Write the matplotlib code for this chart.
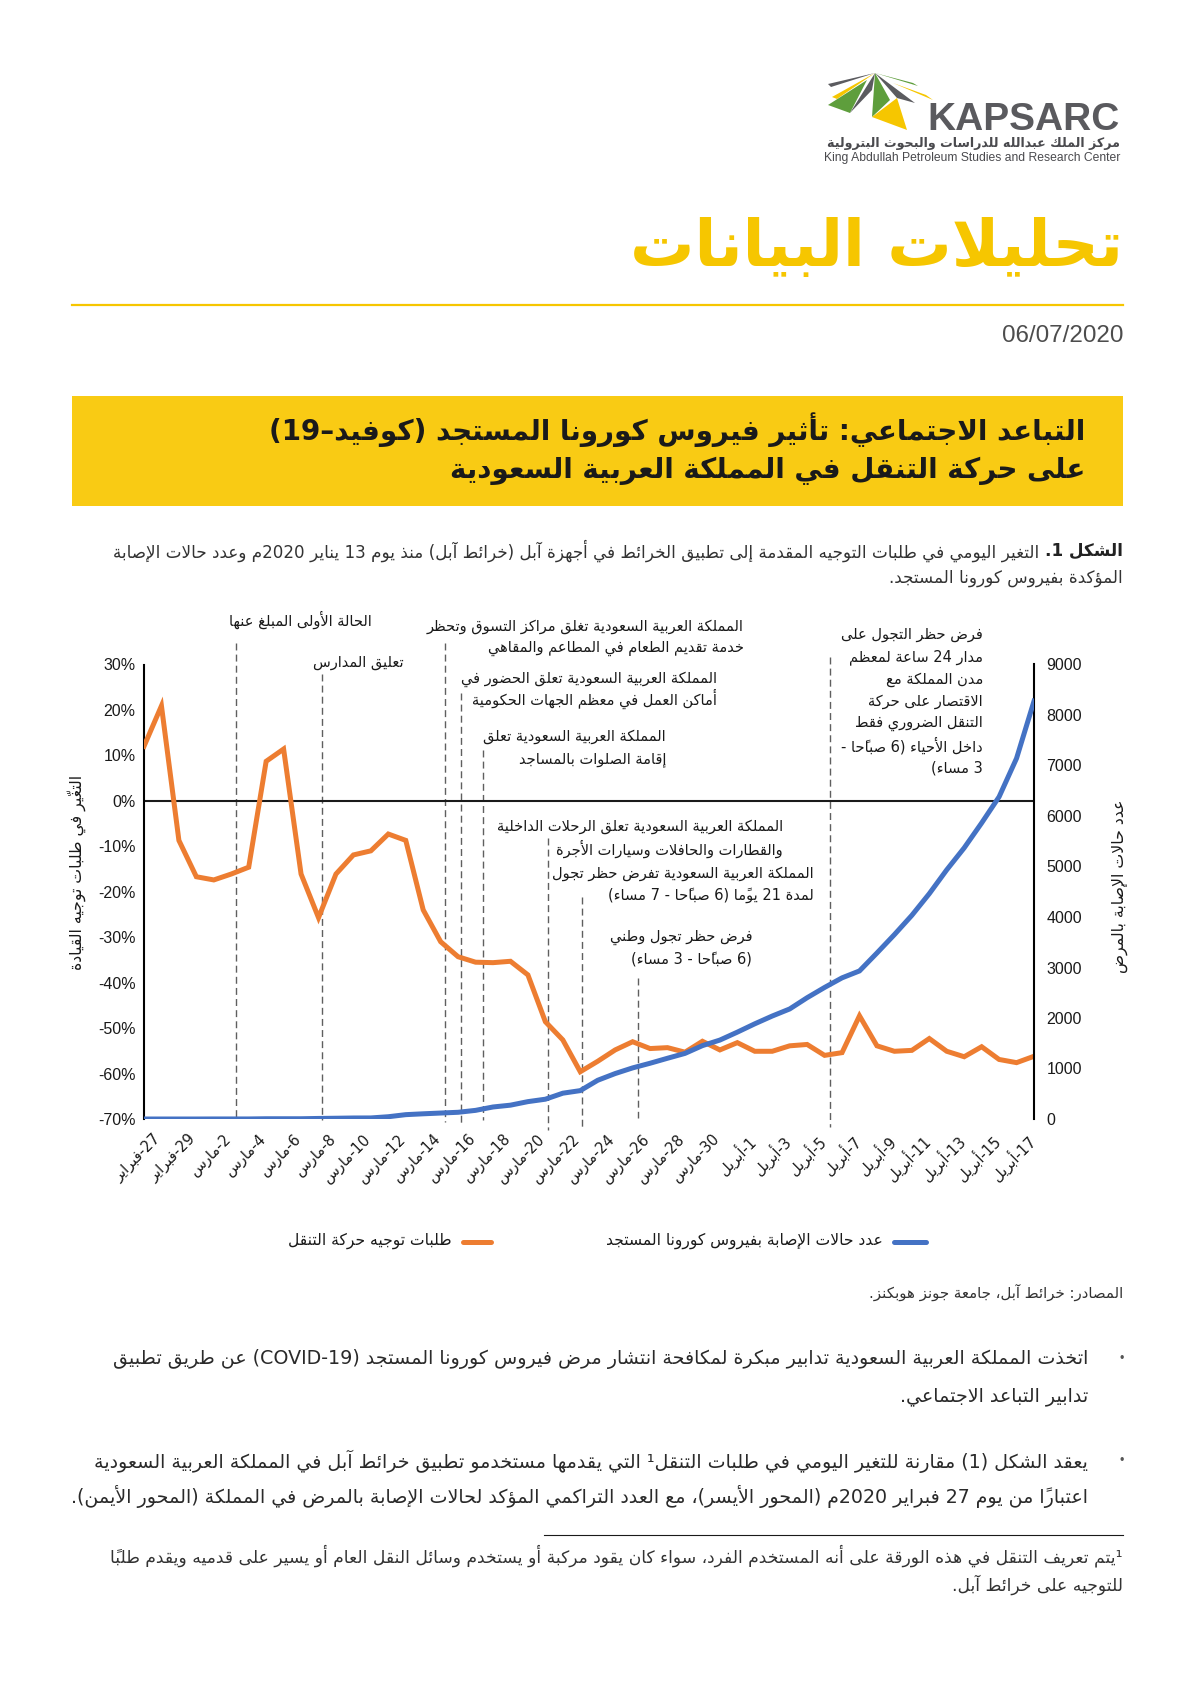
import matplotlib
matplotlib.use('Agg')
import matplotlib.pyplot as plt
import matplotlib.transforms as mtransforms
from matplotlib.patches import Rectangle, Polygon
from matplotlib.lines import Line2D

W, H = 1191, 1684

# ---------------- data ----------------
# one value per day, 27 Feb .. 18 Apr 2020
mobility = [12.0, 20.9, -8.7, -16.7, -17.4, -16.1, -14.6, 8.7, 11.4, -16.1,
            -25.7, -16.1, -11.9, -11.0, -7.3, -8.7, -24.0, -31.0, -34.3, -35.5,
            -35.6, -35.3, -38.3, -48.6, -52.6, -59.6, -57.3, -54.8, -53.0, -54.5,
            -54.3, -55.3, -52.9, -54.8, -53.2, -55.1, -55.1, -53.9, -53.6, -56.0,
            -55.4, -47.3, -53.9, -55.1, -54.9, -52.3, -55.1, -56.3, -54.1, -56.9,
            -57.6, -56.2]
cases = [0, 0, 0, 0, 1, 1, 1, 5, 5, 5,
         11, 15, 20, 21, 45, 86, 103, 118, 133, 171,
         238, 274, 344, 392, 511, 562, 767, 900, 1012, 1104,
         1203, 1299, 1453, 1563, 1720, 1885, 2039, 2179, 2402, 2605,
         2795, 2932, 3287, 3651, 4033, 4462, 4934, 5369, 5862, 6380,
         7142, 8274]
tick_labels = ['27-فبراير', '29-فبراير', '2-مارس', '4-مارس', '6-مارس', '8-مارس',
               '10-مارس', '12-مارس', '14-مارس', '16-مارس', '18-مارس', '20-مارس',
               '22-مارس', '24-مارس', '26-مارس', '28-مارس', '30-مارس', '1-أبريل',
               '3-أبريل', '5-أبريل', '7-أبريل', '9-أبريل', '11-أبريل', '13-أبريل',
               '15-أبريل', '17-أبريل']
left_ticks = [30, 20, 10, 0, -10, -20, -30, -40, -50, -60, -70]
right_ticks = [9000, 8000, 7000, 6000, 5000, 4000, 3000, 2000, 1000, 0]

# event markers (day index) and their notes
event_days = [5.27, 10.2, 17.23, 18.15, 19.4, 23.17, 25.12, 28.28, 39.29]
event_notes = [
    ['الحالة الأولى المبلغ عنها'],
    ['تعليق المدارس'],
    ['المملكة العربية السعودية تغلق مراكز التسوق وتحظر', 'خدمة تقديم الطعام في المطاعم والمقاهي'],
    ['المملكة العربية السعودية تعلق الحضور في', 'أماكن العمل في معظم الجهات الحكومية'],
    ['المملكة العربية السعودية تعلق', 'إقامة الصلوات بالمساجد'],
    ['المملكة العربية السعودية تعلق الرحلات الداخلية', 'والقطارات والحافلات وسيارات الأجرة'],
    ['المملكة العربية السعودية تفرض حظر تجول', 'لمدة 21 يومًا (6 صباحًا - 7 مساء)'],
    ['فرض حظر تجول وطني', '(6 صباحًا - 3 مساء)'],
    ['فرض حظر التجول على', 'مدار 24 ساعة لمعظم', 'مدن المملكة مع', 'الاقتصار على حركة',
     'التنقل الضروري فقط', 'داخل الأحياء (6 صباحًا -', '3 مساء)'],
]
# layout of the event lines / notes in page pixels
line_top = [643, 674, 643, 693, 750, 838, 897, 978, 657]
line_bot = [1118, 1120, 1122, 1126, 1120, 1130, 1128, 1118, 1127]
note_right = [372, 404, 744, 717, 666, 783, 814, 752, 983]
note_y = [620, 662, 626, 679, 737, 827, 874, 937, 635]
note_gap = [22, 22, 22, 20, 23, 22, 21, 22, 22.2]

ORANGE = '#ED7D31'
BLUE = '#4472C4'
YELLOW = '#F6C600'

# ---------------- minimal Arabic shaping + bidi ----------------
FORMS = {'ء': (0xFE80, 1), 'آ': (0xFE81, 2), 'أ': (0xFE83, 2), 'ؤ': (0xFE85, 2),
         'إ': (0xFE87, 2), 'ئ': (0xFE89, 4), 'ا': (0xFE8D, 2), 'ب': (0xFE8F, 4),
         'ة': (0xFE93, 2), 'ت': (0xFE95, 4), 'ث': (0xFE99, 4), 'ج': (0xFE9D, 4),
         'ح': (0xFEA1, 4), 'خ': (0xFEA5, 4), 'د': (0xFEA9, 2), 'ذ': (0xFEAB, 2),
         'ر': (0xFEAD, 2), 'ز': (0xFEAF, 2), 'س': (0xFEB1, 4), 'ش': (0xFEB5, 4),
         'ص': (0xFEB9, 4), 'ض': (0xFEBD, 4), 'ط': (0xFEC1, 4), 'ظ': (0xFEC5, 4),
         'ع': (0xFEC9, 4), 'غ': (0xFECD, 4), 'ف': (0xFED1, 4), 'ق': (0xFED5, 4),
         'ك': (0xFED9, 4), 'ل': (0xFEDD, 4), 'م': (0xFEE1, 4), 'ن': (0xFEE5, 4),
         'ه': (0xFEE9, 4), 'و': (0xFEED, 2), 'ى': (0xFEEF, 2), 'ي': (0xFEF1, 4)}
LAMALEF = {'آ': 0xFEF5, 'أ': 0xFEF7, 'إ': 0xFEF9, 'ا': 0xFEFB}
MIRROR = {'(': ')', ')': '(', '[': ']', ']': '['}


def is_mark(c):
    o = ord(c)
    return 0x064B <= o <= 0x065F or o == 0x0670 or 0x0610 <= o <= 0x061A


def jtype(c):
    if c == 'ـ':
        return 'D'
    if c in FORMS:
        return {1: 'U', 2: 'R', 4: 'D'}[FORMS[c][1]]
    return 'U'


def shape(s):
    n = len(s)
    out = []
    i = 0
    while i < n:
        c = s[i]
        if is_mark(c):
            if out:
                out[-1] += c
            i += 1
            continue
        if c not in FORMS:
            out.append(c)
            i += 1
            continue
        p = i - 1
        while p >= 0 and is_mark(s[p]):
            p -= 1
        prev_j = p >= 0 and jtype(s[p]) == 'D'
        nx = i + 1
        while nx < n and is_mark(s[nx]):
            nx += 1
        nxt = s[nx] if nx < n else None
        if c == 'ل' and nxt in LAMALEF:
            out.append(chr(LAMALEF[nxt] + (1 if prev_j else 0)) + s[i + 1:nx])
            i = nx + 1
            continue
        next_j = jtype(c) == 'D' and nxt is not None and jtype(nxt) in ('D', 'R')
        start, k = FORMS[c]
        if k == 1:
            g = start
        elif k == 2:
            g = start + (1 if prev_j else 0)
        else:
            g = start + (3 if prev_j and next_j else 1 if prev_j else 2 if next_j else 0)
        out.append(chr(g))
        i += 1
    return out


def ctype(cl):
    o = ord(cl[0])
    if 0x0600 <= o <= 0x06FF or 0xFB50 <= o <= 0xFEFF:
        return 'R'
    if cl[0].isalnum() or cl[0] == '¹':
        return 'L'
    return 'N'


def ar(s):
    cls = shape(s)
    ts = [ctype(c) for c in cls]
    res = list(ts)
    for i, t in enumerate(ts):
        if t == 'N':
            p = next((ts[j] for j in range(i - 1, -1, -1) if ts[j] != 'N'), 'R')
            q = next((ts[j] for j in range(i + 1, len(ts)) if ts[j] != 'N'), 'R')
            res[i] = 'L' if (p == 'L' and q == 'L') else 'R'
    runs = []
    for c, t in zip(cls, res):
        if runs and runs[-1][0] == t:
            runs[-1][1].append(c)
        else:
            runs.append([t, [c]])
    out = []
    for t, cs in reversed(runs):
        if t == 'R':
            out.extend(MIRROR.get(c, c) for c in reversed(cs))
        else:
            out.extend(cs)
    return ''.join(out)


# ---------------- figure ----------------
fig = plt.figure(figsize=(W / 100, H / 100), dpi=100)
renderer = fig.canvas.get_renderer()
AR = ['DejaVu Sans']
LAT = ['Liberation Sans', 'DejaVu Sans']


def fx(x):
    return x / W


def fy(y):
    return 1 - y / H


def fit(s, target, weight='normal', family=AR):
    t = fig.text(0, 0, s, fontsize=20, fontweight=weight, family=family)
    w = t.get_window_extent(renderer).width
    t.remove()
    return 20 * target / w


def rtext(x, y, s, size, **kw):
    kw.setdefault('family', AR)
    kw.setdefault('ha', 'right')
    kw.setdefault('va', 'center')
    return fig.text(fx(x), fy(y), ar(s), fontsize=size, **kw)


# logo
logo_polys = [
    ([(875, 73), (828, 84), (831, 87)], '#5B5B5F'),
    ([(875, 73), (832, 97), (837, 99)], YELLOW),
    ([(867, 80), (828, 105), (850, 113)], '#5E9E3C'),
    ([(875, 73), (850, 113), (872, 90)], '#5B5B5F'),
    ([(875, 73), (872, 117), (890, 100)], '#5E9E3C'),
    ([(872, 117), (907, 130), (897, 98)], YELLOW),
    ([(875, 73), (915, 103), (897, 98)], '#5B5B5F'),
    ([(875, 73), (918, 86), (913, 83)], '#5E9E3C'),
    ([(893, 83), (933, 100), (926, 95)], YELLOW),
]
for pts, col in logo_polys:
    fig.patches.append(Polygon([(fx(a), fy(b)) for a, b in pts], closed=True,
                               transform=fig.transFigure, color=col, lw=0))
fig.text(fx(1120), fy(120), 'KAPSARC', ha='right', va='center', fontsize=fit('KAPSARC', 192, 'bold', LAT),
         fontweight='bold', color='#5A5A5E', family=LAT)
s_logo = 'مركز الملك عبدالله للدراسات والبحوث البترولية'
rtext(1120, 143, s_logo, fit(ar(s_logo), 294, 'bold'), fontweight='bold', color='#4A4A4E')
fig.text(fx(1120), fy(158), 'King Abdullah Petroleum Studies and Research Center', ha='right', va='center',
         fontsize=fit('King Abdullah Petroleum Studies and Research Center', 294, family=LAT),
         color='#4A4A4E', family=LAT)

# title block
s_title = 'تحليلات البيانات'
rtext(1123, 248, s_title, fit(ar(s_title), 493, 'bold'), fontweight='bold', color=YELLOW)
fig.lines.append(Line2D([fx(72), fx(1123)], [fy(305), fy(305)], transform=fig.transFigure,
                        color=YELLOW, lw=1.6))
fig.text(fx(1123), fy(336), '06/07/2020', ha='right', va='center', fontsize=fit('06/07/2020', 121, family=LAT),
         color='#4D4D4D', family=LAT)

fig.patches.append(Rectangle((fx(72), fy(506)), fx(1123) - fx(72), fy(396) - fy(506),
                             transform=fig.transFigure, color='#F9CB14', lw=0))
b1 = 'التباعد الاجتماعي: تأثير فيروس كورونا المستجد (كوفيد–19)'
b2 = 'على حركة التنقل في المملكة العربية السعودية'
sb = fit(ar(b1), 816, 'bold')
rtext(1085, 430, b1, sb, fontweight='bold', color='#1A1A1A')
rtext(1085, 471, b2, sb, fontweight='bold', color='#1A1A1A')

# caption
c_bold = 'الشكل 1.'
c_rest = ' التغير اليومي في طلبات التوجيه المقدمة إلى تطبيق الخرائط في أجهزة آبل (خرائط آبل) منذ يوم 13 يناير 2020م وعدد حالات الإصابة'
sc = fit(ar(c_bold + c_rest), 1000)
tb = rtext(1123, 551, c_bold, sc, fontweight='bold', color='#222222')
wb = tb.get_window_extent(renderer).width
rtext(1123 - wb, 551, c_rest, sc, color='#333333')
rtext(1123, 578, 'المؤكدة بفيروس كورونا المستجد.', sc, color='#333333')

# ---------------- chart ----------------
ax_l, ax_r, ax_t, ax_b = 144, 1034, 664.5, 1119
ax = fig.add_axes([fx(ax_l), fy(ax_b), fx(ax_r) - fx(ax_l), fy(ax_t) - fy(ax_b)])
ax2 = ax.twinx()
days = list(range(len(mobility)))
ax.plot(days, mobility, color=ORANGE, lw=3.6, solid_joinstyle='miter', zorder=3)
ax2.plot(days, cases, color=BLUE, lw=3.6, solid_joinstyle='miter', zorder=3)
ax.set_xlim(0, len(mobility) - 1)
ax.set_ylim(-70, 30)
ax2.set_ylim(0, 9000)
ax.axhline(0, color='#1A1A1A', lw=1.5, zorder=2)
for a in (ax, ax2):
    a.set_facecolor('none')
    for sp in ('top', 'bottom'):
        a.spines[sp].set_visible(False)
    a.spines['left'].set_visible(a is ax)
    a.spines['right'].set_visible(a is ax2)
    a.spines['left'].set_linewidth(1.5)
    a.spines['right'].set_linewidth(1.5)
ax.set_yticks(left_ticks)
ax.set_yticklabels([f'{v}%' for v in left_ticks], family=LAT, fontsize=11.5, color='#1A1A1A')
ax2.set_yticks(right_ticks)
ax2.set_yticklabels([str(v) for v in right_ticks], family=LAT, fontsize=11.5, color='#1A1A1A')
ax.tick_params(axis='y', length=0, pad=6)
ax2.tick_params(axis='y', length=0, pad=9)
ax.set_xticks(days[::2])
ax.set_xticklabels([ar(s) for s in tick_labels], rotation=45, ha='right', va='top',
                   rotation_mode='anchor', family=AR, fontsize=10.5, color='#1A1A1A')
ax.tick_params(axis='x', length=0, pad=9)
shift = mtransforms.ScaledTranslation(9 / 100, 0, fig.dpi_scale_trans)
for lab in ax.get_xticklabels():
    lab.set_transform(lab.get_transform() + shift)

trans = mtransforms.blended_transform_factory(ax.transData, fig.transFigure)
s_ann = fit(ar(event_notes[2][0]), 319)
for d, top, bot, xr, y0, gap, note in zip(event_days, line_top, line_bot, note_right,
                                          note_y, note_gap, event_notes):
    ax.plot([d, d], [fy(top), fy(bot)], transform=trans, clip_on=False, color='#5F5F5F',
            lw=1.0, ls=(0, (5, 3)), zorder=1)
    for k, line in enumerate(note):
        rtext(xr, y0 + k * gap, line, s_ann, color='#1A1A1A')

rtext(77, 872, 'التغيّر في طلبات توجيه القيادة', s_ann + 0.8, rotation=90, ha='center', color='#1A1A1A')
rtext(1120, 886, 'عدد حالات الإصابة بالمرض', s_ann + 0.8, rotation=90, ha='center', color='#1A1A1A')

# legend
fig.lines.append(Line2D([fx(894), fx(926)], [fy(1242), fy(1242)], transform=fig.transFigure,
                        color=BLUE, lw=3.6, solid_capstyle='round'))
rtext(883, 1241, 'عدد حالات الإصابة بفيروس كورونا المستجد', s_ann + 0.6, color='#1A1A1A')
fig.lines.append(Line2D([fx(463), fx(491)], [fy(1242), fy(1242)], transform=fig.transFigure,
                        color=ORANGE, lw=3.6, solid_capstyle='round'))
rtext(452, 1241, 'طلبات توجيه حركة التنقل', s_ann + 0.6, color='#1A1A1A')

# source
s_src = 'المصادر: خرائط آبل، جامعة جونز هوبكنز.'
rtext(1123, 1292, s_src, fit(ar(s_src), 256), color='#333333')

# bullets
p1 = ['اتخذت المملكة العربية السعودية تدابير مبكرة لمكافحة انتشار مرض فيروس كورونا المستجد (COVID-19) عن طريق تطبيق',
      'تدابير التباعد الاجتماعي.']
p2 = ['يعقد الشكل (1) مقارنة للتغير اليومي في طلبات التنقل¹ التي يقدمها مستخدمو تطبيق خرائط آبل في المملكة العربية السعودية',
      'اعتباراً من يوم 27 فبراير 2020م (المحور الأيسر)، مع العدد التراكمي المؤكد لحالات الإصابة بالمرض في المملكة (المحور الأيمن).']
sp = fit(ar(p1[0]), 973)
rtext(1088, 1359, p1[0], sp, color='#2A2A2A')
rtext(1088, 1397, p1[1], sp, color='#2A2A2A')
rtext(1088, 1461, p2[0], sp, color='#2A2A2A')
rtext(1088, 1497, p2[1], sp, color='#2A2A2A')
for yb in (1359, 1461):
    fig.text(fx(1122), fy(yb), '•', ha='center', va='center', fontsize=9, color='#555555', family=LAT)

# footnote
fig.lines.append(Line2D([fx(544), fx(1123)], [fy(1535), fy(1535)], transform=fig.transFigure,
                        color='#1A1A1A', lw=0.8))
f1 = '¹يتم تعريف التنقل في هذه الورقة على أنه المستخدم الفرد، سواء كان يقود مركبة أو يستخدم وسائل النقل العام أو يسير على قدميه ويقدم طلباً'
f2 = 'للتوجيه على خرائط آبل.'
sf = fit(ar(f1), 1007)
rtext(1123, 1556, f1, sf, color='#333333')
rtext(1123, 1585, f2, sf, color='#333333')

fig.savefig('out.png', dpi=100)
